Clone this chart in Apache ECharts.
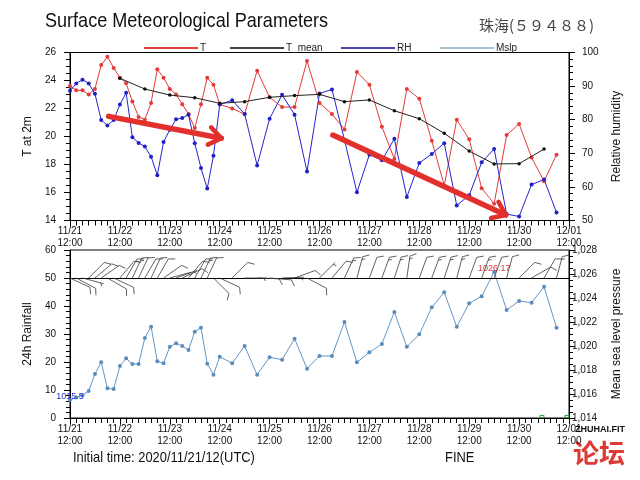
<!DOCTYPE html>
<html><head><meta charset="utf-8">
<script src="https://cdn.jsdelivr.net/npm/echarts@6/dist/echarts.min.js"></script>
<style>html,body{margin:0;padding:0;background:#fff}#c{width:640px;height:480px}</style>
</head><body><div id="c"></div>
<script>
// forecast hours from 2020/11/21 12:00
const hours = [0,3,6,9,12,15,18,21,24,27,30,33,36,39,42,45,48,51,54,57,60,63,66,69,72,
  78,84,90,96,102,108,114,120,126,132,138,144,150,156,162,168,174,180,186,192,198,204,210,216,222,228,234];
const tVals = [23.6,23.3,23.3,23.0,23.4,25.1,25.7,24.9,24.2,23.8,22.5,21.4,21.2,22.4,24.8,24.2,23.4,23.0,22.3,21.6,20.6,22.3,24.2,23.7,22.3,
  22.0,21.6,24.7,22.8,22.1,22.1,25.4,22.4,21.6,20.5,24.6,23.7,20.7,18.4,23.4,22.7,19.7,16.5,21.2,19.8,16.3,15.2,20.1,20.9,18.5,16.8,18.7];
const rhVals = [88.6,90.8,91.9,90.8,87.7,79.9,78.3,79.9,84.5,88.0,74.8,73.1,72.0,69.0,63.5,73.4,77.0,80.1,80.5,81.5,73.0,65.6,59.5,69.3,84.5,
  85.8,81.7,66.4,80.3,87.4,81.5,64.6,87.8,89.0,74.0,58.4,69.6,67.9,74.3,57.0,67.1,69.8,73.0,54.5,57.5,67.3,71.3,51.9,51.2,60.7,62.2,52.4];
const tMeanHours = [24,36,48,60,72,84,96,108,120,132,144,156,168,180,192,204,216,228];
const tMeanVals = [24.16,23.39,22.96,22.77,22.37,22.49,22.8,22.92,23.01,22.49,22.61,21.84,21.27,20.23,18.96,18.04,18.06,19.1];
const mslpVals = [1015.5,1015.7,1015.9,1016.25,1017.67,1018.64,1016.47,1016.42,1018.33,1018.97,1018.5,1018.5,1020.67,1021.61,1018.72,1018.56,1019.94,1020.22,1020.0,1019.67,1021.19,1021.53,1018.53,1017.61,1019.11,
  1018.56,1020.0,1017.61,1019.06,1018.86,1020.61,1018.11,1019.17,1019.17,1022.0,1018.64,1019.47,1020.17,1022.83,1019.94,1020.97,1023.22,1024.47,1021.61,1023.56,1024.14,1026.17,1023.0,1023.75,1023.61,1024.94,1021.53];
const windDir = [115,118,105,45,50,55,120,115,40,30,25,25,30,25,30,55,75,70,65,40,30,25,25,135,115,
  45,90,92,95,88,70,118,45,40,25,15,20,20,18,8,20,20,18,15,20,20,20,15,45,60,30,15];
const windSpd = [10,10,4,10,10,10,10,10,10,15,15,10,10,10,10,10,5,5,10,10,10,15,10,10,10,
  10,3,10,10,5,10,10,5,10,15,15,10,15,15,15,10,15,15,15,10,15,10,10,10,10,10,15];
const rainHours = [227,239];
const rainVals = [1.1,1.1];
const dayLabels = ['11/21','11/22','11/23','11/24','11/25','11/26','11/27','11/28','11/29','11/30','12/01'];
const tTicks = [14,26,2], rhTicks = [50,100,10], rainTicks = [0,60,10], mslpTicks = [1014,1028,2];
// hand-drawn annotation arrows: [h0, T0, h1, T1]
const arrows = [[18.6,21.44,72.8,19.87],[126.4,20.1,209.6,14.39]];

const FONT = 'Liberation Sans';
const chart = echarts.init(document.getElementById('c'), null, {renderer:'canvas'});
const xFmt = v => (dayLabels[Math.round(v/24)] || '') + '\n12:00';
function xAxis(gi){
  return {type:'value', gridIndex:gi, min:0, max:240, interval:24,
    axisLine:{show:true, lineStyle:{color:'#000', width:1}},
    axisTick:{show:true, length:6, lineStyle:{color:'#000'}},
    minorTick:{show:true, splitNumber:8, length:5, lineStyle:{color:'#000'}},
    splitLine:{show:false},
    axisLabel:{formatter:xFmt, fontSize:10, lineHeight:12, color:'#111', margin:5, fontFamily:FONT}};
}
function yAxis(gi, t, pos, name, minorSplit, gap, margin){
  return {type:'value', gridIndex:gi, position:pos, min:t[0], max:t[1], interval:t[2],
    name:name, nameLocation:'middle', nameGap:gap, nameRotate:90,
    nameTextStyle:{fontSize:12, color:'#111', fontFamily:FONT},
    axisLine:{show:true, lineStyle:{color:'#000', width:1}},
    axisTick:{show:true, length:6, lineStyle:{color:'#000'}},
    minorTick:{show:true, splitNumber:minorSplit, length:4, lineStyle:{color:'#000'}},
    splitLine:{show:false},
    axisLabel:{fontSize:10, color:'#111', margin:margin, fontFamily:FONT}};
}
const iMax = mslpVals.indexOf(Math.max(...mslpVals));
const iMin = mslpVals.indexOf(Math.min(...mslpVals));
const mslpData = mslpVals.map((v,i)=>{
  const it = {value:[hours[i], v]};
  if (i===iMax) it.label = {show:true, formatter:String(v), position:'inside', offset:[0,-3], color:'#d43a3a', fontSize:9, fontFamily:FONT};
  if (i===iMin) it.label = {show:true, formatter:String(v), position:'inside', offset:[0,-3], color:'#2b2bd0', fontSize:9, fontFamily:FONT};
  return it;
});
function legend(name, left, color){
  return {show:true, left:left, top:38, itemWidth:54, itemHeight:2, icon:'rect', itemGap:0,
    data:[{name:name, itemStyle:{color:color}}],
    textStyle:{fontSize:10, color:'#222', fontFamily:FONT, padding:[0,0,0,-3]}};
}
const option = {
  animation:false,
  backgroundColor:'#fff',
  legend:[legend('T',139,'#e04040'), legend('T_mean',225,'#444'), legend('RH',336,'#4848a8'), legend('Mslp',435,'#a8c2d2')],
  grid:[
    {left:70, right:71, top:52.5, height:168, show:true, borderColor:'#000', borderWidth:1},
    {left:70, right:71, top:250, height:168, show:true, borderColor:'#000', borderWidth:1}
  ],
  xAxis:[xAxis(0), xAxis(1)],
  yAxis:[
    yAxis(0, tTicks, 'left', 'T at 2m', 4, 35, 14),
    yAxis(0, rhTicks, 'right', 'Relative humidity', 5, 42, 13),
    yAxis(1, rainTicks, 'left', '24h Rainfall', 5, 35, 14),
    yAxis(1, mslpTicks, 'right', 'Mean sea level pressure', 4, 42, 3)
  ],
  graphic:[
    {type:'text', x:45, y:11, scaleX:0.86, style:{text:'Surface Meteorological Parameters', fontSize:21, fill:'#111', fontFamily:FONT}},
    {type:'text', left:479, top:18, style:{text:'珠海(５９４８８)', fontSize:15, fill:'#444', fontFamily:'Noto Sans CJK SC'}},
    {type:'text', x:73, y:450, scaleX:0.86, style:{text:'Initial time: 2020/11/21/12(UTC)', fontSize:15, fill:'#111', fontFamily:FONT}},
    {type:'text', x:445, y:450, scaleX:0.86, style:{text:'FINE', fontSize:15, fill:'#111', fontFamily:FONT}},
    {type:'text', left:575, top:425, style:{text:'ZHUHAI.FIT', fontSize:9, fontWeight:'bold', fill:'#111', fontFamily:FONT}},
    {type:'text', left:573, top:440, style:{text:'论坛', fontSize:26, fontWeight:'bold', fill:'#de3a35', fontFamily:'Noto Sans CJK SC'}}
  ],
  series:[
    {name:'T', type:'line', xAxisIndex:0, yAxisIndex:0, data:hours.map((h,i)=>[h,tVals[i]]),
      symbol:'circle', symbolSize:4, lineStyle:{color:'#e53a3a', width:1}, itemStyle:{color:'#e53a3a'}, z:3},
    {name:'T_mean', type:'line', xAxisIndex:0, yAxisIndex:0, data:tMeanHours.map((h,i)=>[h,tMeanVals[i]]),
      symbol:'circle', symbolSize:3.5, lineStyle:{color:'#222', width:1}, itemStyle:{color:'#111'}, z:4},
    {name:'RH', type:'line', xAxisIndex:0, yAxisIndex:1, data:hours.map((h,i)=>[h,rhVals[i]]),
      symbol:'circle', symbolSize:4, lineStyle:{color:'#2525cc', width:1}, itemStyle:{color:'#2020c8'}, z:3},
    {name:'arrows', type:'custom', xAxisIndex:0, yAxisIndex:0, data:arrows, clip:false, z:10, silent:true,
      encode:{x:[0,2], y:[1,3]},
      renderItem:(params, api)=>{
        const a = api.coord([api.value(0), api.value(1)]);
        const b = api.coord([api.value(2), api.value(3)]);
        const ang = Math.atan2(b[1]-a[1], b[0]-a[0]);
        const hl = 15, ha = Math.PI/5;
        const h1 = [b[0]-hl*Math.cos(ang-ha), b[1]-hl*Math.sin(ang-ha)];
        const h2 = [b[0]-hl*Math.cos(ang+ha), b[1]-hl*Math.sin(ang+ha)];
        return {type:'group', children:[
          {type:'line', shape:{x1:a[0],y1:a[1],x2:b[0],y2:b[1]}, style:{stroke:'#e2312c', lineWidth:5.5, lineCap:'round'}},
          {type:'polyline', shape:{points:[h1,b,h2]}, style:{stroke:'#e2312c', lineWidth:4.5, fill:null, lineJoin:'round', lineCap:'round'}}
        ]};
      }},
    {name:'Mslp', type:'line', xAxisIndex:1, yAxisIndex:3, data:mslpData,
      symbol:'circle', symbolSize:4, lineStyle:{color:'#6497c6', width:1}, itemStyle:{color:'#5a8cbd'}, z:3},
    {name:'Rain', type:'bar', xAxisIndex:1, yAxisIndex:2, data:rainHours.map((h,i)=>[h,rainVals[i]]),
      barWidth:5, itemStyle:{color:'rgba(0,0,0,0)', borderColor:'#2f9a3e', borderWidth:1},
      markLine:{symbol:'none', silent:true, label:{show:false}, lineStyle:{color:'#000', type:'solid', width:1},
        data:[{yAxis:50}]}},
    {name:'Wind', type:'custom', xAxisIndex:1, yAxisIndex:2, clip:false, silent:true, z:5,
      data:hours.map((h,i)=>[h, windDir[i], windSpd[i]]),
      renderItem:(params, api)=>{
        const p = api.coord([api.value(0), 50]);
        const D = api.value(1)*Math.PI/180, S = api.value(2);
        const L = 22;
        const ux = Math.sin(D), uy = -Math.cos(D);
        const tip = [p[0]+ux*L, p[1]+uy*L];
        const st = {stroke:'#3a3a3a', lineWidth:0.8};
        const ch = [{type:'line', shape:{x1:p[0],y1:p[1],x2:tip[0],y2:tip[1]}, style:st}];
        const th = Math.atan2(-uy, ux);
        const phi = th - Math.PI/3;
        const fx = Math.cos(phi), fy = -Math.sin(phi);
        let rem = Math.round(S/5)*5, k = 0;
        while (rem >= 10) {
          const b = [tip[0]-ux*3*k, tip[1]-uy*3*k];
          ch.push({type:'line', shape:{x1:b[0],y1:b[1],x2:b[0]+fx*7,y2:b[1]+fy*7}, style:st});
          rem -= 10; k++;
        }
        if (rem >= 5) {
          const kk = k===0 ? 1 : k;
          const b = [tip[0]-ux*3*kk, tip[1]-uy*3*kk];
          ch.push({type:'line', shape:{x1:b[0],y1:b[1],x2:b[0]+fx*3.5,y2:b[1]+fy*3.5}, style:st});
        }
        return {type:'group', children:ch};
      }}
  ]
};
chart.setOption(option);
</script>
</body></html>
